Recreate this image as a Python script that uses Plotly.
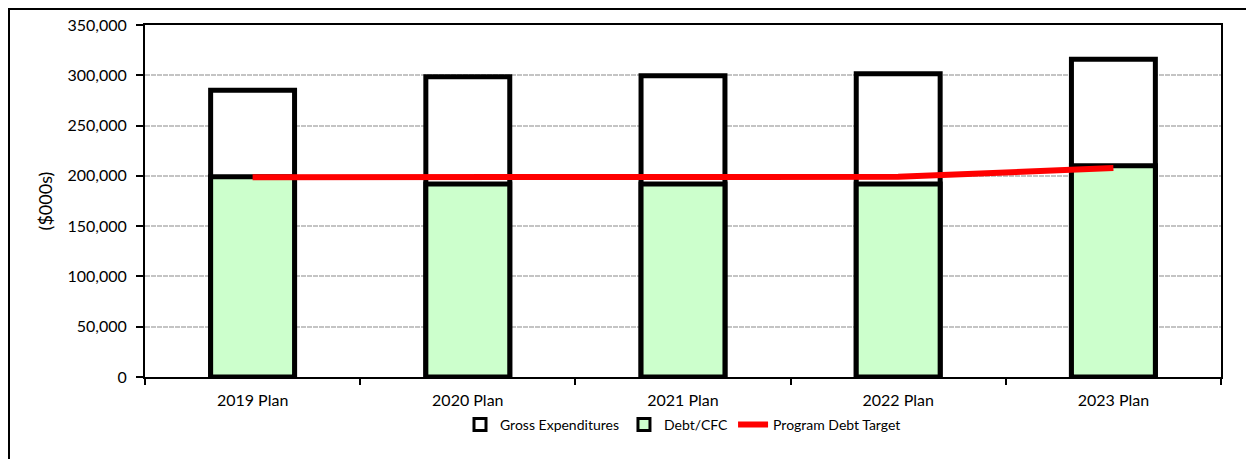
import plotly.graph_objects as go

categories = ["2019 Plan", "2020 Plan", "2021 Plan", "2022 Plan", "2023 Plan"]
gross_expenditures = [285000, 298500, 299500, 301500, 316000]
debt_cfc = [199000, 192000, 192000, 192000, 210000]
program_debt_target = [198700, 199000, 199000, 199000, 207800]

FONT = "Lato"

fig = go.Figure()
fig.add_trace(go.Bar(
    x=categories, y=gross_expenditures, name="Gross Expenditures",
    marker=dict(color="white", line=dict(color="black", width=5)),
    width=0.39, showlegend=False,
))
fig.add_trace(go.Bar(
    x=categories, y=debt_cfc, name="Debt/CFC",
    marker=dict(color="#CCFFCC", line=dict(color="black", width=5)),
    width=0.39, showlegend=False,
))
# legend-only entries (thinner outline so the fill stays visible in the legend swatch)
fig.add_trace(go.Bar(
    x=[None], y=[None], name="Gross Expenditures",
    marker=dict(color="white", line=dict(color="black", width=3)),
))
fig.add_trace(go.Bar(
    x=[None], y=[None], name="Debt/CFC",
    marker=dict(color="#CCFFCC", line=dict(color="black", width=3)),
))
fig.add_trace(go.Scatter(
    x=categories, y=program_debt_target, name="Program Debt Target",
    mode="lines", line=dict(color="#FF0000", width=6),
))

fig.update_layout(
    width=1246, height=459,
    margin=dict(l=145, r=25, t=25, b=82),
    barmode="overlay",
    plot_bgcolor="white", paper_bgcolor="white",
    font=dict(family=FONT, size=16, color="black"),
    showlegend=True,
    legend=dict(orientation="h", x=0.5, xanchor="center", y=-0.136, yanchor="middle",
                font=dict(size=14, family=FONT), traceorder="normal"),
    xaxis=dict(
        showline=True, linecolor="black", linewidth=2, mirror=True,
        ticks="outside", tickson="boundaries", ticklen=6, tickcolor="black", tickwidth=2,
        showgrid=False, tickfont=dict(size=16), ticklabelstandoff=8,
        categoryorder="array", categoryarray=categories,
    ),
    yaxis=dict(
        range=[0, 350000], dtick=50000, tickformat=",",
        showline=True, linecolor="black", linewidth=2, mirror=True,
        ticks="outside", ticklen=7, tickcolor="black", tickwidth=2,
        showgrid=True, gridcolor="#C4C4C4", gridwidth=2, griddash="5px,1px",
        zeroline=False, tickfont=dict(size=16), ticklabelstandoff=6,
        title=dict(text="($000s)", font=dict(size=18), standoff=10),
    ),
    shapes=[dict(
        type="rect", xref="paper", yref="paper",
        x0=(9 - 145) / 1076, x1=1.2, y0=-0.6, y1=(377 - 9) / 352,
        line=dict(color="black", width=2), fillcolor="rgba(0,0,0,0)", layer="below",
    )],
)

fig.write_html("out.html")
